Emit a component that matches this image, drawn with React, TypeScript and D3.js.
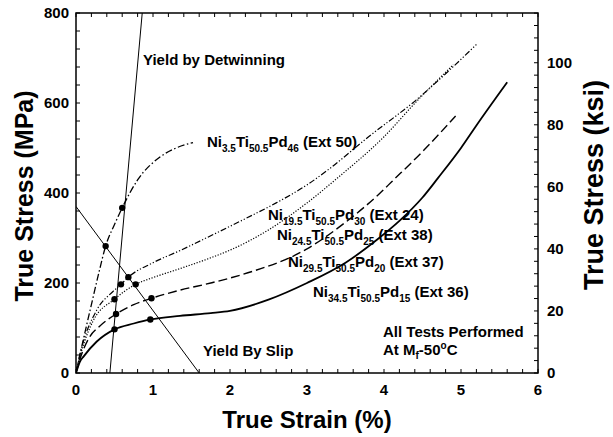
import React from "react";
import * as d3 from "d3";

// ---- data (strain %, true stress MPa) ----
const ni35Strain = [0, 0.05, 0.1, 0.2, 0.3, 0.385, 0.5, 0.6, 0.8, 1.1, 1.3, 1.52];
const ni35Stress = [0, 40, 78, 152, 225, 282, 330, 367, 429, 481, 500, 512];

const ni195Strain = [0, 0.05, 0.27, 0.48, 0.584, 0.68, 1.0, 1.35, 1.75, 2.2, 2.6, 3.0, 3.3, 3.8, 4.42, 4.8, 5.2];
const ni195Stress = [0, 40, 140, 181, 197, 213, 245, 272, 305, 343, 378, 418, 455, 525, 607, 665, 730];

const ni245Strain = [0, 0.05, 0.22, 0.5, 0.775, 1.0, 1.35, 1.75, 2.0, 2.5, 3.0, 3.4, 4.0, 4.42, 4.9];
const ni245Stress = [0, 35, 115, 164, 197, 212, 232, 256, 273, 318, 378, 434, 525, 603, 685];

const ni295Strain = [0, 0.05, 0.18, 0.3, 0.52, 0.75, 0.98, 1.35, 1.75, 2.0, 2.4, 2.8, 3.0, 3.5, 3.95, 4.1, 4.5, 4.93];
const ni295Stress = [0, 30, 81, 103, 131, 152, 166, 184, 200, 211, 232, 258, 276, 335, 400, 425, 492, 571];

const ni345Strain = [0, 0.05, 0.1, 0.27, 0.5, 0.75, 0.965, 1.35, 1.75, 2.0, 2.5, 3.0, 3.5, 3.9, 4.2, 4.5, 4.7, 5.0, 5.2, 5.6];
const ni345Stress = [0, 25, 37, 70, 97, 110, 119, 127, 133, 138, 163, 200, 245, 295, 338, 390, 433, 500, 550, 646];

const dotStrain = [0.385, 0.6, 0.584, 0.68, 0.5, 0.775, 0.52, 0.98, 0.5, 0.965];
const dotStress = [282, 367, 197, 213, 164, 197, 131, 166, 97, 119];

const detwinStrain = [0.44, 0.86];
const detwinStress = [0, 800];
const slipStrain = [0, 1.6];
const slipStress = [370, 0];

const xTicks = [0, 1, 2, 3, 4, 5, 6];
const yTicks = [0, 200, 400, 600, 800];
const ksiTicks = [0, 20, 40, 60, 80, 100];
const MPA_PER_KSI = 6.894757;

const W = 613, H = 437;
const L = 76, R = 538, T = 13, B = 373;

const x = d3.scaleLinear().domain([0, 6]).range([L, R]);
const y = d3.scaleLinear().domain([0, 800]).range([B, T]);
const yKsi = d3.scaleLinear().domain([0, 800 / MPA_PER_KSI]).range([B, T]);

const zip = (a: number[], b: number[]) => a.map((v, i) => [v, b[i]] as [number, number]);

const curve = d3
  .line<[number, number]>()
  .x((d) => x(d[0]))
  .y((d) => y(d[1]))
  .curve(d3.curveMonotoneX);
const straight = d3
  .line<[number, number]>()
  .x((d) => x(d[0]))
  .y((d) => y(d[1]));

const series = [
  { pts: zip(ni35Strain, ni35Stress), dash: "7,2.5,1.5,2.5", w: 1.3 },
  { pts: zip(ni195Strain, ni195Stress), dash: "6,2,1.2,2,1.2,2", w: 1.2 },
  { pts: zip(ni245Strain, ni245Stress), dash: "1.2,1.6", w: 1.2 },
  { pts: zip(ni295Strain, ni295Stress), dash: "9,4", w: 1.4 },
  { pts: zip(ni345Strain, ni345Stress), dash: "", w: 1.8 },
];

const FONT = "'Liberation Sans', Arial, Helvetica, sans-serif";

function Alloy({ xp, yp, a, b, c, ext }: { xp: number; yp: number; a: string; b: string; c: string; ext: string }) {
  return (
    <text x={xp} y={yp} fontSize={15} fontWeight="bold" fontFamily={FONT}>
      <tspan>Ni</tspan>
      <tspan fontSize={10} dy={4.5}>{a}</tspan>
      <tspan dy={-4.5}>Ti</tspan>
      <tspan fontSize={10} dy={4.5}>{b}</tspan>
      <tspan dy={-4.5}>Pd</tspan>
      <tspan fontSize={10} dy={4.5}>{c}</tspan>
      <tspan dy={-4.5}>{" (Ext " + ext + ")"}</tspan>
    </text>
  );
}

export default function App() {
  const minorX = d3.range(0, 6.0001, 0.2);
  const minorY = d3.range(0, 800.001, 40);
  const minorK = d3.range(0, 116.01, 4);
  const tl = 4;
  return (
    <svg width={W} height={H} style={{ position: "absolute", left: 0, top: 0, background: "#fff" }}>
      <rect x={0} y={0} width={W} height={H} fill="#fff" />
      {/* ticks */}
      <g stroke="#000" strokeWidth={1}>
        {minorX.map((v, i) => (
          <g key={"x" + i}>
            <line x1={x(v)} x2={x(v)} y1={B} y2={B - tl} />
            <line x1={x(v)} x2={x(v)} y1={T} y2={T + tl} />
          </g>
        ))}
        {minorY.map((v, i) => (
          <line key={"y" + i} x1={L} x2={L + tl} y1={y(v)} y2={y(v)} />
        ))}
        {minorK.map((v, i) => (
          <line key={"k" + i} x1={R} x2={R - tl} y1={yKsi(v)} y2={yKsi(v)} />
        ))}
      </g>
      {/* frame */}
      <rect x={L} y={T} width={R - L} height={B - T} fill="none" stroke="#000" strokeWidth={1.5} />

      {/* tick labels */}
      <g fontFamily={FONT} fontWeight="bold" fontSize={15}>
        {xTicks.map((v) => (
          <text key={"xl" + v} x={x(v)} y={B + 22} textAnchor="middle">{v}</text>
        ))}
        {yTicks.map((v) => (
          <text key={"yl" + v} x={L - 7} y={y(v) + 5.3} textAnchor="end">{v}</text>
        ))}
        {ksiTicks.map((v) => (
          <text key={"kl" + v} x={R + 9} y={yKsi(v) + 5.3} textAnchor="start">{v}</text>
        ))}
      </g>

      {/* axis titles */}
      <g fontFamily={FONT} fontWeight="bold">
        <text x={(L + R) / 2} y={428} textAnchor="middle" fontSize={24}>True Strain (%)</text>
        <text transform={`translate(33,196) rotate(-90)`} textAnchor="middle" fontSize={25}>True Stress (MPa)</text>
        <text transform={`translate(603,185) rotate(-90)`} textAnchor="middle" fontSize={27}>True Stress (ksi)</text>
      </g>

      <defs>
        <clipPath id="plot">
          <rect x={L} y={T} width={R - L} height={B - T} />
        </clipPath>
      </defs>
      <g clipPath="url(#plot)">
        <path d={straight(zip(detwinStrain, detwinStress)) || ""} stroke="#000" strokeWidth={1} fill="none" />
        <path d={straight(zip(slipStrain, slipStress)) || ""} stroke="#000" strokeWidth={1} fill="none" />
        {series.map((s, i) => (
          <path key={i} d={curve(s.pts) || ""} stroke="#000" strokeWidth={s.w} strokeDasharray={s.dash || undefined} fill="none" />
        ))}
        {dotStrain.map((v, i) => (
          <circle key={"d" + i} cx={x(v)} cy={y(dotStress[i])} r={3.2} fill="#000" />
        ))}
      </g>

      {/* annotations */}
      <g fontFamily={FONT} fontWeight="bold" fontSize={15}>
        <text x={143} y={65}>Yield by Detwinning</text>
        <text x={203} y={356}>Yield By Slip</text>
        <text x={383} y={337}>All Tests Performed</text>
        <text x={383} y={355}>
          <tspan>At M</tspan>
          <tspan fontSize={10} dy={4}>f</tspan>
          <tspan dy={-4}>-50</tspan>
          <tspan fontSize={10} dy={-6}>o</tspan>
          <tspan dy={6}>C</tspan>
        </text>
      </g>
      <Alloy xp={207} yp={147} a="3.5" b="50.5" c="46" ext="50" />
      <Alloy xp={268} yp={220} a="19.5" b="50.5" c="30" ext="24" />
      <Alloy xp={277} yp={240} a="24.5" b="50.5" c="25" ext="38" />
      <Alloy xp={288} yp={267} a="29.5" b="50.5" c="20" ext="37" />
      <Alloy xp={313} yp={297} a="34.5" b="50.5" c="15" ext="36" />
    </svg>
  );
}
